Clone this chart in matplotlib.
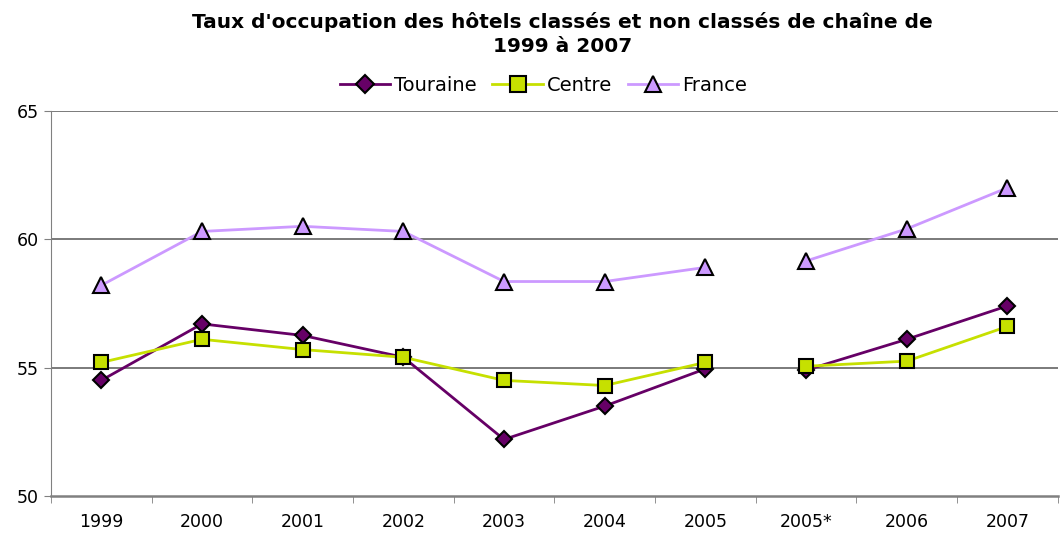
import numpy as np
import matplotlib
matplotlib.use("Agg")
from matplotlib import pyplot as plt

years = ['1999', '2000', '2001', '2002', '2003', '2004', '2005', '2005*', '2006', '2007']
touraine = [54.5, 56.7, 56.25, 55.4, 52.2, 53.5, 54.95, 54.9, 56.1, 57.4]
centre = [55.2, 56.1, 55.7, 55.4, 54.5, 54.3, 55.2, 55.05, 55.25, 56.6]
france = [58.2, 60.3, 60.5, 60.3, 58.35, 58.35, 58.9, 59.15, 60.4, 62.0]
# series break between 2005 and 2005*
brk = 7

fig = plt.figure(figsize=(10.61, 5.35), dpi=100)
ax = fig.add_axes([0.048, 0.073, 0.949, 0.72])

x = np.arange(len(years))
series = [
    ('Touraine', touraine, '#660066', 'D', 8),
    ('Centre', centre, '#c6e000', 's', 10),
    ('France', france, '#cc99ff', '^', 11),
]
for name, vals, col, mk, ms in series:
    for i, (a, b) in enumerate([(0, brk), (brk, len(years))]):
        ax.plot(x[a:b], vals[a:b], color=col, lw=2, marker=mk, ms=ms,
                mfc=col, mec='black', mew=1.5,
                label=name if i == 0 else None, zorder=3)

ax.set_xlim(-0.5, len(years) - 0.5)
ax.set_ylim(50, 65)
ax.set_yticks([50, 55, 60, 65])
ax.set_xticks(x)
ax.set_xticklabels(years)
ax.set_xticks(np.arange(-0.5, len(years)), minor=True)
ax.tick_params(axis='x', which='major', length=0, pad=12, labelsize=12.5)
ax.tick_params(axis='x', which='minor', length=5, color='#808080')
ax.tick_params(axis='y', length=5, color='#808080', labelsize=12.5)
for yv in [55, 60, 65]:
    ax.axhline(yv, color='#7a7a7a', lw=1.4, zorder=1)
for s in ['top', 'right']:
    ax.spines[s].set_visible(False)
ax.spines['left'].set_color('#808080')
ax.spines['bottom'].set_color('#808080')
ax.spines['bottom'].set_linewidth(1.8)

fig.text(0.53, 0.978, "Taux d'occupation des hôtels classés et non classés de chaîne de\n1999 à 2007",
         ha='center', va='top', fontsize=14.5, fontweight='bold', linespacing=1.35)
fig.legend(loc='center', bbox_to_anchor=(0.512, 0.84), ncol=3, frameon=False,
           fontsize=14, handlelength=2.6, handletextpad=0.2, columnspacing=0.8,
           markerscale=1.1)

plt.savefig('out.png', dpi=100)
